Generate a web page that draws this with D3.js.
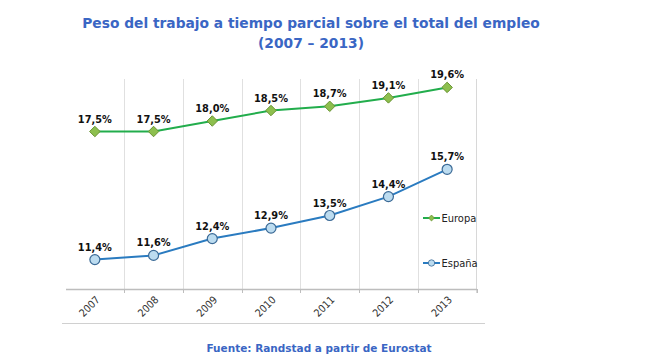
<!DOCTYPE html>
<html><head><meta charset="utf-8">
<script src="https://cdn.jsdelivr.net/npm/d3@7"></script>
<style>body{margin:0;background:#fff}svg{display:block}</style>
</head><body>
<svg id="c" width="660" height="356"></svg>
<script>
const years = ["2007","2008","2009","2010","2011","2012","2013"];
const europa = [17.5, 17.5, 18.0, 18.5, 18.7, 19.1, 19.6];
const espana = [11.4, 11.6, 12.4, 12.9, 13.5, 14.4, 15.7];
const seriesNames = ["Europa", "España"];
const titleLines = ["Peso del trabajo a tiempo parcial sobre el total del empleo", "(2007 – 2013)"];
const sourceText = "Fuente: Randstad a partir de Eurostat";

const svg = d3.select("#c");
const pL = 65.5, pR = 476.5, pT = 79, pB = 289;
const x = d3.scaleBand().domain(years).range([pL, pR]);
const y = d3.scaleLinear().domain([10, 20]).range([pB, pT]);
const fmt = v => d3.format(".1f")(v).replace(".", ",") + "%";

// title
svg.selectAll("text.title").data(titleLines).enter().append("text")
  .attr("x", 311).attr("y", (d,i) => 28 + i*20)
  .attr("text-anchor", "middle")
  .attr("font-family", "DejaVu Sans").attr("font-weight", "bold")
  .attr("font-size", 13.8).attr("fill", "#3a66c4").text(d => d);

// gridlines at category boundaries
const bounds = years.slice(1).map(d => x(d));
svg.selectAll("line.grid").data(bounds).enter().append("line")
  .attr("x1", d => Math.round(d)+0.5).attr("x2", d => Math.round(d)+0.5)
  .attr("y1", pT).attr("y2", pB)
  .attr("stroke", "#e0e0e0").attr("stroke-width", 1);
// right border
svg.append("line").attr("x1", pR).attr("x2", pR).attr("y1", pT).attr("y2", pB+4)
  .attr("stroke", "#d8d8d8");

// x axis
const xAxis = d3.axisBottom(x).tickSize(0).tickFormat(d => d);
const gx = svg.append("g").attr("transform", `translate(0,${pB})`).call(xAxis);
gx.select(".domain").attr("stroke", "#bdbdbd").attr("stroke-width", 1.5);
gx.selectAll(".tick text")
  .attr("font-family", "DejaVu Sans Condensed").attr("font-size", 10.5).attr("fill", "#333")
  .attr("text-anchor", "end")
  .attr("transform", "translate(3,9) rotate(-45)")
  .attr("dy", "0.35em").attr("dx", 0).attr("y", 0);
// tick marks at boundaries
svg.selectAll("line.tk").data(bounds.concat([pR])).enter().append("line")
  .attr("x1", d => Math.round(d)+0.5).attr("x2", d => Math.round(d)+0.5)
  .attr("y1", pB).attr("y2", pB+4).attr("stroke", "#bdbdbd");

// bottom frame line
svg.append("line").attr("x1", 62).attr("x2", 485).attr("y1", 323.5).attr("y2", 323.5)
  .attr("stroke", "#d0d0d0");

const cx = d => x(d) + x.bandwidth()/2;
const line = d3.line().x((d,i) => cx(years[i])).y(d => y(d));

// Europa
svg.append("path").datum(europa).attr("d", line).attr("fill", "none")
  .attr("stroke", "#22ad4c").attr("stroke-width", 2);
const diamond = d3.symbol().type(d3.symbolDiamond2).size(70);
svg.selectAll("path.eu").data(europa).enter().append("path")
  .attr("d", diamond)
  .attr("transform", (d,i) => `translate(${cx(years[i])},${y(d)})`)
  .attr("fill", "#8dbf4e").attr("stroke", "#6a9434").attr("stroke-width", 1);
// España
svg.append("path").datum(espana).attr("d", line).attr("fill", "none")
  .attr("stroke", "#2a7bc0").attr("stroke-width", 2);
svg.selectAll("circle.es").data(espana).enter().append("circle")
  .attr("cx", (d,i) => cx(years[i])).attr("cy", d => y(d)).attr("r", 5)
  .attr("fill", "#bcdcf0").attr("stroke", "#3b6a96").attr("stroke-width", 1.2);

// labels
[europa, espana].forEach(s => {
  svg.selectAll(null).data(s).enter().append("text")
    .attr("x", (d,i) => cx(years[i])).attr("y", d => y(d) - 9)
    .attr("text-anchor", "middle")
    .attr("font-family", "DejaVu Sans").attr("font-weight", "bold")
    .attr("font-size", 9.8).attr("fill", "#111").text(fmt);
});

// legend
const legY = [218, 263];
const legColors = [["#22ad4c", "#8dbf4e", "#6a9434"], ["#2a7bc0", "#bcdcf0", "#3b6a96"]];
seriesNames.forEach((n, i) => {
  const g = svg.append("g").attr("transform", `translate(423,${legY[i]})`);
  g.append("line").attr("x1", 0).attr("x2", 17).attr("stroke", legColors[i][0]).attr("stroke-width", 2);
  if (i === 0) {
    g.append("path").attr("d", d3.symbol().type(d3.symbolDiamond2).size(22)())
      .attr("transform", "translate(8.5,0)")
      .attr("fill", legColors[i][1]).attr("stroke", legColors[i][2]).attr("stroke-width", 0.8);
  } else {
    g.append("circle").attr("cx", 8.5).attr("r", 3.2)
      .attr("fill", legColors[i][1]).attr("stroke", legColors[i][2]).attr("stroke-width", 0.8);
  }
  g.append("text").attr("x", 18.5).attr("dy", "0.35em")
    .attr("font-family", "DejaVu Sans Condensed").attr("font-size", 11).attr("fill", "#222").text(n);
});

// source
svg.append("text").attr("x", 319).attr("y", 352).attr("text-anchor", "middle")
  .attr("font-family", "DejaVu Sans").attr("font-weight", "bold")
  .attr("font-size", 10.5).attr("fill", "#3a66c4").text(sourceText);
</script>
</body></html>
